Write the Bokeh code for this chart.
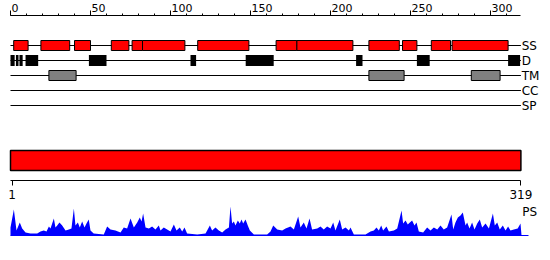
from bokeh.plotting import figure
from bokeh.models import Range1d, LinearAxis, FixedTicker
from bokeh.core.properties import value
from bokeh.embed import file_html
from bokeh.resources import INLINE

# ---------------- data ----------------
seq_len = 319
track_names = ["SS", "D", "TM", "CC", "SP"]

ss_start = [2, 19, 40, 63, 76, 82.5, 117, 166, 179, 224, 245, 263, 276]
ss_end = [11, 37, 50, 74, 82.5, 109, 149, 179, 214, 243, 254, 275, 311]

d_start = [0, 3.4, 5.6, 9.4, 49, 112.5, 147, 216, 254, 311]
d_end = [2.6, 5, 7.6, 17.3, 60, 116, 164.5, 220, 262, 318.5]

tm_start = [24, 224, 288]
tm_end = [41, 246, 306]

domain_start = [0]
domain_end = [319]

bottom_ticks = [1, 319]
top_ticks_major = [0, 50, 100, 150, 200, 250, 300]
top_tick_labels = ["0", "50", "100", "150", "200", "250", "300"]

ps_pos = [0, 2.1, 3.75, 5.8, 7.3, 9.4, 12.5, 16.7, 18.75, 20.8, 22.5, 24, 25, 27.1, 28.1, 29.2,
          30.6, 32.3, 34.4, 36.5, 38.1, 39.6, 40.6, 42.1, 43.3, 44.8, 46.25, 47.5, 48.9, 50,
          52, 58.3, 60.4, 62.5, 65.6, 68.75, 70.8, 72.9, 75, 77.1, 79.2, 80.8, 81.9, 82.9,
          84.4, 86.5, 88.5, 90.6, 92.7, 93.75, 95.8, 97.9, 100, 102.1, 103.75, 105.8, 107.3,
          108.75, 110.4, 116.7, 121.9, 124.6, 126, 128.1, 130.2, 132.3, 134.4, 136.5, 137.5,
          138.5, 139.6, 140.6, 142.1, 143.3, 144.4, 145.4, 146.9, 148.3, 149.6, 152.1, 160.4,
          162.5, 164.2, 166.7, 169.8, 171.9, 175, 177.1, 179.8, 181.25, 183.3, 185, 186.9,
          188.5, 191.7, 193.75, 195.8, 197.9, 200, 201.7, 203.1, 205.8, 207.3, 209.4, 211.5,
          212.5, 214.6, 221.9, 225, 227.1, 228.75, 230.2, 231.7, 232.9, 235, 236.5, 239.6,
          241.7, 244.4, 245.4, 246.9, 248.3, 249.6, 251, 252.5, 253.75, 255.2, 257.9, 260.4,
          262.5, 264.6, 266.7, 268.75, 270.8, 272.9, 275.6, 276.7, 278.1, 279.6, 281.25,
          282.7, 284.4, 285.4, 286.9, 288.5, 290, 291.7, 293.3, 294.8, 296.9, 299, 301.5,
          302.7, 304.2, 305.8, 307.7, 309.4, 311, 312.5, 314.6, 317, 318.75, 319.4]
ps_val = [8, 26, 5, 13, 7, 3, 2, 2, 4, 5, 4, 9, 7, 17, 8, 10,
          13, 10, 5, 6, 7, 27, 10, 13, 8, 14, 8, 12, 16, 5,
          2, 1, 9, 6, 5, 3, 8, 7, 17, 8, 13, 18, 14, 22,
          8, 7, 9, 6, 10, 5, 8, 6, 4, 11, 5, 8, 4,
          8, 2, 1, 2, 10, 5, 8, 5, 3, 6, 8, 29,
          12, 14, 10, 15, 12, 16, 12, 16, 10, 5, 1, 1,
          4, 10, 6, 5, 7, 9, 6, 19, 8, 13, 7, 17,
          6, 7, 9, 6, 9, 7, 13, 5, 16, 6, 8, 5,
          8, 1, 1, 4, 5, 8, 5, 10, 5, 9, 4, 5,
          7, 25, 12, 15, 11, 13, 15, 10, 13, 4, 3, 8,
          5, 8, 6, 10, 6, 8, 21, 6, 13, 18, 20,
          23, 10, 13, 7, 13, 6, 12, 16, 8, 12, 7, 22,
          10, 13, 6, 10, 5, 9, 5, 6, 7, 12, 0]

# ---------------- layout constants (pixel rows) ----------------
W, H = 550, 260
PX = 1.6          # pixels per residue
X0 = 10           # pixel of residue 0
AXIS_Y = 15
TICK_LEN = 5
TRACK_Y = [45, 60, 75, 90, 105]
BOX_HALF = 5
D_HALF = 5.5
DOM_TOP, DOM_BOT = 150, 170
BAXIS_Y = 180
PS_BASE = 235
PS_Y_LABEL = 211

FONT = "DejaVu Sans"

p = figure(width=W, height=H, output_backend="svg", toolbar_location=None,
           x_range=Range1d(-X0 / PX, (W - X0) / PX), y_range=Range1d(H, 0),
           x_axis_location=None, y_axis_location=None, min_border=0,
           background_fill_color="white", border_fill_color="white")
p.outline_line_color = None
p.xgrid.visible = False
p.ygrid.visible = False

# top axis (labels drawn left-aligned beside the ticks)
top = LinearAxis(fixed_location=AXIS_Y, bounds=(0, seq_len),
                 ticker=FixedTicker(ticks=top_ticks_major,
                                    minor_ticks=list(range(0, seq_len + 1, 10))))
top.major_tick_out = TICK_LEN
top.major_tick_in = 0
top.minor_tick_out = 2
top.minor_tick_in = 0
top.axis_line_color = "black"
top.major_tick_line_color = "black"
top.minor_tick_line_color = "black"
top.major_label_text_color = None
p.add_layout(top, "above")
p.text(x=[t + 0.6 for t in top_ticks_major], y=[AXIS_Y - TICK_LEN + 1] * len(top_ticks_major),
       text=top_tick_labels, text_font=value(FONT), text_font_size="11px",
       text_align="left", text_baseline="bottom", text_color="black")

# tracks lines
for ty in TRACK_Y:
    p.line([0, seq_len], [ty, ty], line_color="black", line_width=1)

# SS boxes
p.quad(left=ss_start, right=ss_end, top=TRACK_Y[0] - BOX_HALF, bottom=TRACK_Y[0] + BOX_HALF,
       fill_color="#ff0000", line_color="black", line_width=1)
# D boxes
p.quad(left=d_start, right=d_end, top=TRACK_Y[1] - D_HALF, bottom=TRACK_Y[1] + D_HALF,
       fill_color="black", line_color=None)
# TM boxes
p.quad(left=tm_start, right=tm_end, top=TRACK_Y[2] - BOX_HALF, bottom=TRACK_Y[2] + BOX_HALF,
       fill_color="#808080", line_color="black", line_width=1)

# track labels
p.text(x=[seq_len + 0.5] * len(track_names), y=TRACK_Y, text=track_names,
       text_font=value(FONT), text_font_size="12px", text_align="left",
       text_baseline="middle", text_color="black")

# domain bar
p.quad(left=domain_start, right=domain_end, top=DOM_TOP, bottom=DOM_BOT,
       fill_color="#ff0000", line_color="black", line_width=1.5)

# bottom axis
bot = LinearAxis(fixed_location=BAXIS_Y, bounds=(0, seq_len),
                 ticker=FixedTicker(ticks=bottom_ticks, minor_ticks=[]))
bot.major_tick_out = 5
bot.major_tick_in = 0
bot.minor_tick_out = 0
bot.axis_line_color = "black"
bot.major_label_text_font = FONT
bot.major_label_text_font_size = "12px"
bot.major_label_text_color = "black"
bot.major_label_standoff = 4
p.add_layout(bot, "below")

# PS profile
ps_top = [PS_BASE - v for v in ps_val]
p.varea(x=ps_pos, y1=[PS_BASE] * len(ps_pos), y2=ps_top, fill_color="#0000ff")
p.line([0, 323.75], [PS_BASE, PS_BASE], line_color="#0000ff", line_width=1)
p.text(x=[seq_len + 0.8], y=[PS_Y_LABEL], text=["PS"], text_font=value(FONT),
       text_font_size="12px", text_align="left", text_baseline="middle", text_color="black")

open("out.html", "w").write(file_html(p, INLINE))
